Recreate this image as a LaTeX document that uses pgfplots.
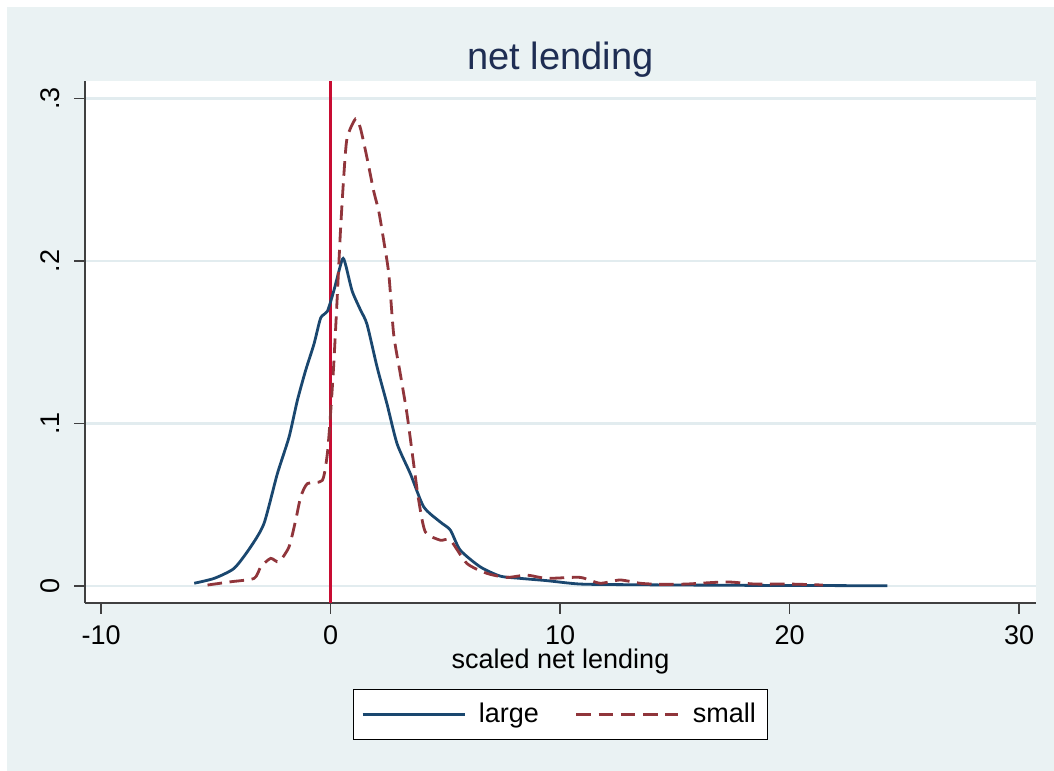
\documentclass[border=0pt]{standalone}
\usepackage{fontspec}
\setmainfont{Liberation Sans}
\usepackage{pgfplots}
\pgfplotsset{compat=1.18}
\pgfdeclarelayer{bg}
\pgfsetlayers{bg,main}
\definecolor{bgblue}{RGB}{234,242,243}
\definecolor{gridc}{RGB}{226,236,239}
\definecolor{snavy}{RGB}{26,71,111}
\definecolor{smaroon}{RGB}{144,53,59}
\definecolor{sred}{RGB}{200,12,50}
\definecolor{titlec}{RGB}{30,45,83}

\pgfplotstableread{
x y
-5.94 0.0017
-5.07 0.0047
-4.20 0.0109
-3.48 0.0241
-2.90 0.0385
-2.32 0.0690
-1.81 0.0916
-1.45 0.1140
-1.09 0.1325
-0.72 0.1490
-0.43 0.1650
-0.14 0.1690
0.14 0.1816
0.51 0.2010
0.65 0.1980
0.94 0.1816
1.30 0.1700
1.59 0.1610
2.03 0.1346
2.46 0.1120
2.90 0.0875
3.48 0.0690
4.06 0.0487
4.78 0.0394
5.22 0.0344
5.65 0.0221
6.52 0.0118
7.39 0.0061
8.26 0.0047
9.42 0.0033
10.87 0.0012
13.0 0.0008
15.2 0.0006
18.0 0.0004
21.0 0.0003
24.26 0.0001
}\large

\pgfplotstableread{
x y
-5.36 0.0006
-4.35 0.0026
-3.33 0.0047
-3.04 0.0118
-2.61 0.0170
-2.25 0.0149
-1.81 0.0241
-1.52 0.0405
-1.30 0.0548
-1.01 0.0630
-0.36 0.0650
-0.14 0.0814
0.00 0.1060
0.14 0.1366
0.29 0.1775
0.43 0.2180
0.58 0.2530
0.72 0.2757
1.09 0.2875
1.30 0.2818
1.59 0.2634
1.88 0.2430
2.10 0.2307
2.32 0.2123
2.54 0.1918
2.75 0.1550
3.04 0.1305
3.33 0.1060
3.62 0.0753
3.84 0.0528
4.13 0.0333
4.78 0.0282
5.22 0.0282
5.94 0.0139
6.81 0.0078
7.68 0.0053
8.55 0.0067
9.42 0.0047
10.87 0.0053
11.74 0.0017
12.61 0.0037
13.48 0.0017
14.35 0.0010
15.50 0.0012
17.25 0.0025
18.50 0.0012
20.00 0.0012
21.45 0.0006
}\small

\begin{document}
\begin{tikzpicture}
\begin{axis}[
  scale only axis, width=475.5pt, height=261pt,
  xmin=-10.70, xmax=30.74, ymin=-0.01046, ymax=0.3108,
  clip=false,
  axis x line*=bottom, axis y line*=left,
  axis line style={-, line width=0.8pt, color=black!75},
  axis background/.style={fill=white},
  xtick={-10,0,10,20,30}, xticklabels={-10,0,10,20,30},
  ytick={0,0.1,0.2,0.3}, yticklabels={0,.1,.2,.3},
  tick align=outside, major tick length=5.5pt,
  tick style={line width=0.8pt, color=black!75},
  ymajorgrids,
  grid style={line width=1.2pt, gridc},
  ticklabel style={font=\fontsize{13.5}{15}\selectfont},
  xticklabel style={anchor=north, inner sep=0pt, yshift=-5.5pt},
  yticklabel style={xshift=-7pt, rotate=90, anchor=south, inner sep=0pt},
  title={net lending},
  title style={at={(0.5,1.017)}, anchor=center, font=\fontsize{19}{22}\selectfont, color=titlec},
  xlabel={scaled net lending},
  xlabel style={at={(0.5,-0.113)}, anchor=center, inner sep=0pt, font=\fontsize{13.5}{15}\selectfont},
  legend style={at={(0.5,-0.2132)}, anchor=center, draw=black, fill=white,
    font=\fontsize{13.5}{15}\selectfont, legend columns=2,
    inner xsep=4pt, inner ysep=5pt,
    /tikz/every odd column/.append style={column sep=4.5pt},
    /tikz/every even column/.append style={column sep=16pt}},
  legend image code/.code={\draw[#1] (0pt,0pt) -- (51pt,0pt);},
]
\coordinate (pgbl) at (rel axis cs:-0.08938,-0.32184);
\coordinate (pgtr) at (rel axis cs:1.01893,1.15517);
\coordinate (bgbl) at (rel axis cs:-0.08202,-0.32184);
\coordinate (bgtr) at (rel axis cs:1.01893,1.14176);
\addplot[sred, line width=1.1pt, forget plot] coordinates {(0,-0.01046) (0,0.3108)};
\addplot[snavy, line width=1.4pt, smooth, tension=0.4] table[x=x,y=y] {\large};
\addlegendentry{large}
\addplot[smaroon, line width=1.4pt, dash pattern=on 7.3pt off 3.8pt, smooth, tension=0.4] table[x=x,y=y] {\small};
\addlegendentry{small}
\end{axis}
\begin{pgfonlayer}{bg}
\fill[white] (pgbl) rectangle (pgtr);
\fill[bgblue] (bgbl) rectangle (bgtr);
\end{pgfonlayer}
\pgfresetboundingbox
\path[use as bounding box] (pgbl) rectangle (pgtr);
\end{tikzpicture}
\end{document}
